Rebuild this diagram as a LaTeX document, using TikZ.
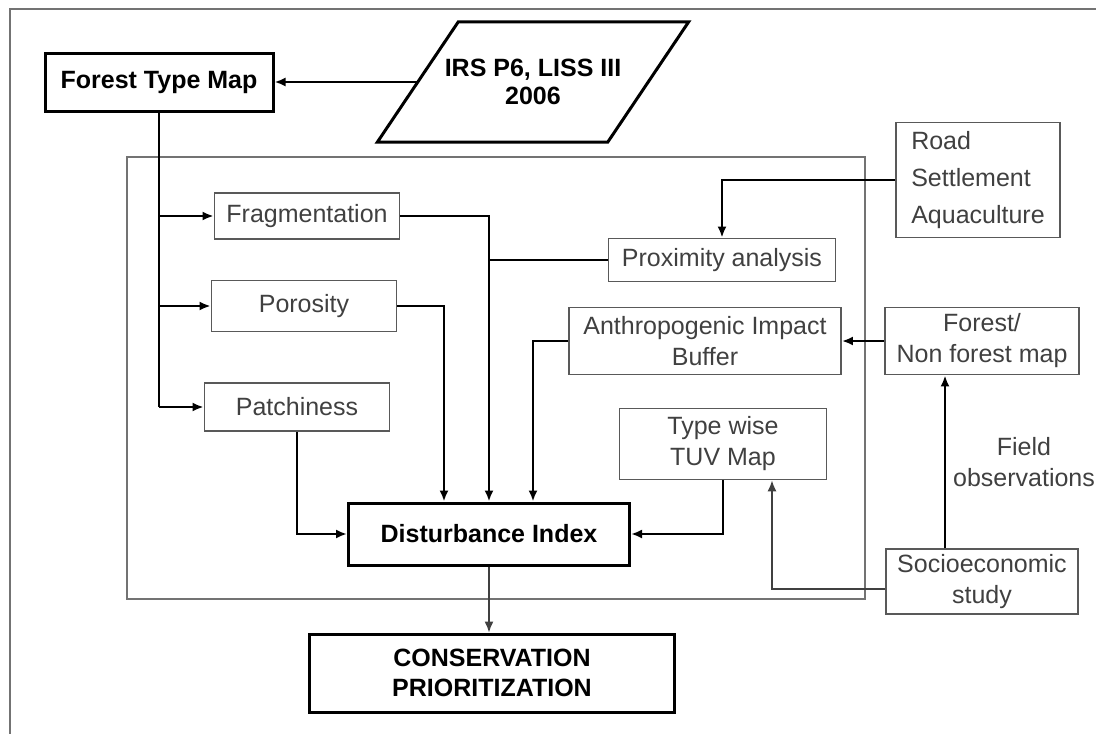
\documentclass[tikz,border=0pt]{standalone}
\usepackage{fontspec}
\setmainfont{Liberation Sans}
\usetikzlibrary{shapes.geometric, arrows.meta, positioning, calc}
\tikzset{
  mainbox/.style={rectangle, draw=black, line width=3pt, inner sep=0pt, align=center, font=\fontsize{25}{30}\selectfont\bfseries},
  subbox/.style={rectangle, draw=black!65, line width=1.8pt, inner sep=0pt, align=center, text=black!75, font=\fontsize{25}{31}\selectfont},
  datain/.style={rectangle, inner sep=0pt, align=center, font=\fontsize{25}{28}\selectfont\bfseries},
  arrow/.style={line width=2.5pt, -{Latex[length=11pt,width=9pt]}},
  thinarrow/.style={line width=1.4pt, black!75, -{Latex[length=11pt,width=9pt]}},
  link/.style={line width=2.5pt},
  panel/.style={draw=black!55, line width=1.6pt}
}

\begin{document}
\begin{tikzpicture}[x=1pt, y=-1pt, node distance=20pt]
    \useasboundingbox (0,0) rectangle (1096,734);
    % Frames
    \draw[panel] (10,734) -- (10,9) -- (1096,9);
    \draw[panel] (127,157) rectangle (865,599);

    % Nodes
    \node[mainbox, minimum width=228pt, minimum height=58pt] (ftm) at (159,82) {Forest Type Map};
    \node[datain, minimum width=311pt, minimum height=120pt] (irs) at (533,82) {IRS P6, LISS III\\2006};
    \draw[line width=3pt, line join=miter] (irs.south west) -- ([xshift=81pt]irs.north west) -- (irs.north east) -- ([xshift=-81pt]irs.south east) -- cycle;
    \node[subbox, minimum width=185pt, minimum height=46pt] (frag) at (307,216) {Fragmentation};
    \node[subbox, minimum width=185pt, minimum height=51pt] (poro) at (304,306) {Porosity};
    \node[subbox, minimum width=185pt, minimum height=48pt] (patch) at (297,407) {Patchiness};
    \node[subbox, minimum width=164pt, minimum height=115pt, align=left, font=\fontsize{25}{37}\selectfont] (road) at (978,180) {Road\\Settlement\\Aquaculture};
    \node[subbox, minimum width=227pt, minimum height=43pt] (prox) at (722,260) {Proximity analysis};
    \node[subbox, minimum width=272pt, minimum height=67pt] (anth) at (705,341) {Anthropogenic Impact\\Buffer};
    \node[subbox, minimum width=194pt, minimum height=67pt] (forest) at (982,341) {Forest/\\Non forest map};
    \node[subbox, minimum width=207pt, minimum height=71pt] (tuv) at (723,444) {Type wise\\TUV Map};
    \node[mainbox, minimum width=281pt, minimum height=62pt] (dist) at (489,534) {Disturbance Index};
    \node[subbox, minimum width=192pt, minimum height=65pt, below=173pt of forest] (socio) {Socioeconomic\\study};
    \node[mainbox, minimum width=365pt, minimum height=78pt, below=66pt of dist, xshift=3pt] (cons) {CONSERVATION\\PRIORITIZATION};
    \node[align=center, text=black!75, font=\fontsize{25}{31}\selectfont] (field) at (1024,462) {Field\\observations};

    % Arrows
    \draw[arrow] ([xshift=40pt]irs.west) -- (irs.west -| ftm.east);
    \draw[link] (ftm.south) -- (ftm.south |- patch.west);
    \draw[arrow] (ftm.south |- frag.west) -- (frag.west);
    \draw[arrow] (ftm.south |- poro.west) -- (poro.west);
    \draw[arrow] (ftm.south |- patch.west) -- (patch.west);
    \draw[arrow] (frag.east) -| (dist.north);
    \draw[arrow] (poro.east) -| ([xshift=-45pt]dist.north);
    \draw[link] (prox.west) -- (prox.west -| dist.north);
    \draw[arrow] (road.west) -| (prox.north);
    \draw[arrow] (anth.west) -| ([xshift=44pt]dist.north);
    \draw[arrow] (forest.west) -- (anth.east);
    \draw[arrow] (patch.south) |- (dist.west);
    \draw[arrow] (tuv.south) |- (dist.east);
    \draw[thinarrow] ([yshift=-7pt]socio.west) -| ([xshift=49pt]tuv.south);
    \draw[arrow] ([xshift=-37pt]socio.north) -- ([xshift=-37pt]forest.south);
    \draw[thinarrow] (dist.south) -- (dist.south |- cons.north);
\end{tikzpicture}
\end{document}
